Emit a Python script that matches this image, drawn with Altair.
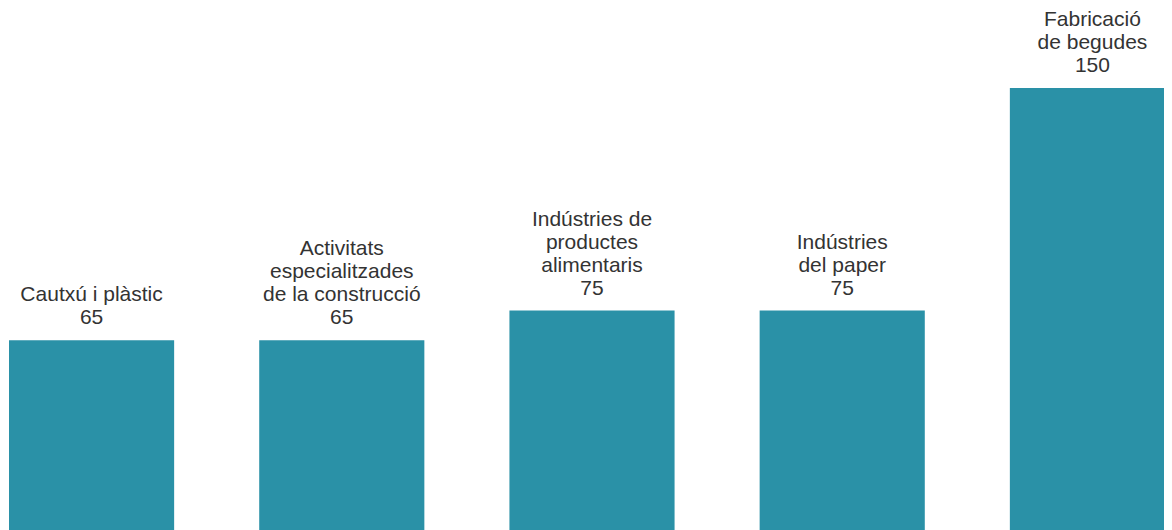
import altair as alt
import pandas as pd

categories = ["Cautxú i plàstic", "Activitats especialitzades de la construcció",
              "Indústries de productes alimentaris", "Indústries del paper",
              "Fabricació de begudes"]
values = [65, 65, 75, 75, 150]
label_lines = [
    ["Cautxú i plàstic"],
    ["Activitats", "especialitzades", "de la construcció"],
    ["Indústries de", "productes", "alimentaris"],
    ["Indústries", "del paper"],
    ["Fabricació", "de begudes"],
]

rows = []
for cat, v, lines in zip(categories, values, label_lines):
    all_lines = lines + [str(v)]
    n = len(all_lines)
    for i, line in enumerate(all_lines):
        rows.append({"cat": cat, "value": v, "line": line, "k": n - 1 - i})
labels = pd.DataFrame(rows)
df = pd.DataFrame({"cat": categories, "value": values})

x = alt.X("cat:N", sort=categories, axis=None,
          scale=alt.Scale(paddingInner=0.34, paddingOuter=0, range=[0, 1166]))
y = alt.Y("value:Q", axis=None, scale=alt.Scale(domain=[0, 177], nice=False, zero=True))

bars = alt.Chart(df).mark_bar(color="#2a91a7").encode(x=x, y=y)

FS = 21
LH = 23
text_layers = []
for k in range(4):
    text_layers.append(
        alt.Chart(labels).transform_filter(alt.datum.k == k).mark_text(
            baseline="alphabetic", align="center", dy=-16 - LH * k, fontSize=FS,
            font="Liberation Sans", color="#333333"
        ).encode(x=x, y=y, text="line:N")
    )

chart = alt.layer(bars, *text_layers).properties(
    width=1155, height=525,
    padding={"left": 1, "top": 0, "right": 0, "bottom": 0},
    autosize=alt.AutoSizeParams(type="none"),
).configure_view(stroke=None)

chart.save("out.html", embed_options={"renderer": "svg", "actions": False})
